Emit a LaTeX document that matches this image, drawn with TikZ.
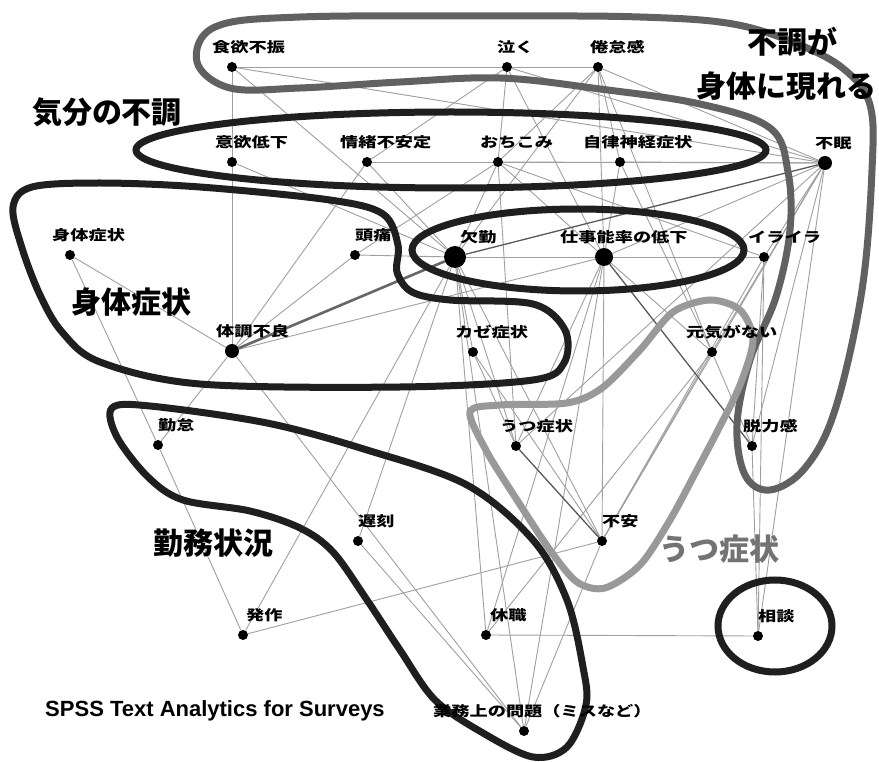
\documentclass[tikz,border=0pt]{standalone}
\usepackage{fontspec}
\setmainfont{Noto Sans CJK JP}
\newfontfamily\latf{Liberation Sans}
\pgfdeclarelayer{bg}
\pgfdeclarelayer{edges}
\pgfdeclarelayer{loops}
\pgfsetlayers{bg,edges,loops,main}
\newcommand\lb[1]{\scalebox{1.3}[1]{#1}}
\newcommand\nd[6][dot]{\node[#1] (#2) at (#3,#4) {};
  \node[lbl,anchor=west] (l#2) at ({#3+(#5)},{#4-20}) {\lb{#6}};}
\tikzset{
  dot/.style={circle,fill=black,inner sep=0pt,minimum size=10pt},
  bigdot/.style={dot,minimum size=22pt},
  middot/.style={dot,minimum size=18pt},
  sdot/.style={dot,minimum size=14pt},
  lbl/.style={font=\bfseries\fontsize{14}{14}\selectfont,inner sep=0pt},
  ed/.style={draw=gray!75,line width=0.9pt},
  eddark/.style={draw=black!65,line width=1.3pt},
  edthick/.style={draw=black!60,line width=2.6pt},
  loopk/.style={draw=black!88,line width=7pt},
  loopg/.style={draw=black!62,line width=7pt},
  loopl/.style={draw=black!40,line width=7pt},
  head/.style={font=\bfseries\fontsize{30}{30}\selectfont,inner sep=0pt},
}
\begin{document}
\begin{tikzpicture}[x=1pt,y=-1pt]
\begin{pgfonlayer}{bg}
\fill[white] (0,0) rectangle (879,762);
\end{pgfonlayer}
\useasboundingbox (0,0) rectangle (879,762);
% nodes
\nd{A}{232}{67}{-20}{食欲不振}
\nd{B}{507}{67}{-10}{泣く}
\nd{C}{598}{67}{-8}{倦怠感}
\nd{D}{232}{162}{-17}{意欲低下}
\nd{E}{367}{162}{-27}{情緒不安定}
\nd{F}{498}{162}{-18}{おちこみ}
\nd{G}{620}{162}{-37}{自律神経症状}
\nd[sdot]{H}{825}{163}{-10}{不眠}
\nd{I}{70}{255}{-18}{身体症状}
\nd{J}{355}{255}{0}{頭痛}
\nd[bigdot]{K}{455}{257}{5}{欠勤}
\nd[middot]{L}{604}{257}{-44}{仕事能率の低下}
\nd{M}{764}{257}{-16}{イライラ}
\nd[sdot]{N}{232}{351}{-16}{体調不良}
\nd{O}{473}{352}{-18}{カゼ症状}
\nd{P}{712}{352}{-26}{元気がない}
\nd{Q}{158}{445}{0}{勤怠}
\nd{R}{516}{446}{-16}{うつ症状}
\nd{S}{752}{446}{-9}{脱力感}
\nd{T}{358}{541}{0}{遅刻}
\nd{U}{602}{541}{0}{不安}
\nd{V}{243}{635}{3}{発作}
\nd{W}{486}{635}{4}{休職}
\nd{X}{758}{636}{0}{相談}
\nd{Y}{524}{731}{-91}{業務上の問題（ミスなど）}
% group headings
\node[head] (h1) at (107,112) {気分の不調};
\node[head] (h2) at (792,42) {不調が};
\node[head] (h3) at (786,86) {身体に現れる};
\node[head] (h4) at (131,302) {身体症状};
\node[head] (h5) at (213,543) {勤務状況};
\node[head,text=black!55] (h6) at (719,549) {うつ症状};
\node[font=\latf\bfseries\fontsize{22}{22}\selectfont,inner sep=0pt] (sp) at (215,711) {SPSS Text Analytics for Surveys};
% edges
\begin{pgfonlayer}{edges}
\foreach \a/\b in {A/B,B/C,A/D,D/N,A/K,A/H,B/F,B/E,B/L,B/H,C/F,C/L,C/H,C/G,C/P,C/K,
  D/K,E/F,E/N,E/K,F/G,F/K,F/L,F/H,F/M,F/J,F/R,G/H,G/L,G/P,H/L,H/M,H/S,H/X,H/P,H/R,H/U,
  I/N,I/Q,J/N,J/K,K/L,K/O,K/R,K/T,K/V,K/W,K/Y,K/U,K/M,L/M,L/P,L/R,L/U,L/Y,L/W,L/N,
  N/Q,N/Y,O/R,O/U,P/S,P/U,P/W,Q/V,S/X,M/X,U/V,U/Y,W/X,T/Y,M/S,M/U}
  \draw[ed] (\a) -- (\b);
\draw[edthick] (K) -- (N);
\draw[eddark] (R) -- (U);
\draw[eddark] (H) -- (K);
\draw[eddark] (L) -- (S);
\end{pgfonlayer}
% group loops
\begin{pgfonlayer}{loops}
\draw[loopg] plot[smooth cycle,tension=0.6] coordinates {
  (230,88) (197,62) (215,27) (300,17) (500,16) (640,17) (733,24) (800,45)
  (845,70) (870,105) (872,170) (862,290) (835,410) (805,468) (770,490)
  (745,475) (737,425) (750,360) (776,297) (790,230) (788,172) (770,128)
  (700,104) (600,89) (500,78) (400,82) (300,88)};
\draw[loopk] (451,150) ellipse[x radius=315,y radius=38];
\draw[loopk] (578,250) ellipse[x radius=166,y radius=41];
\draw[loopk] plot[smooth cycle,tension=0.55] coordinates {
  (13,207) (32,187) (100,183) (200,187) (330,200) (383,214) (398,245)
  (397,272) (412,292) (450,300) (533,304) (565,330) (564,363) (533,380)
  (400,387) (200,384) (100,362) (62,332) (40,295) (22,248)};
\draw[loopk] plot[smooth cycle,tension=0.55] coordinates {
  (112,408) (150,406) (267,423) (367,450) (467,485) (533,540) (567,600)
  (583,667) (586,705) (567,747) (533,757) (483,733) (435,700) (400,650)
  (367,600) (333,552) (300,528) (250,511) (183,500) (148,477) (117,437)};
\draw[loopl] plot[smooth cycle,tension=0.5] coordinates {
  (470,412) (500,405) (567,403) (602,388) (640,350) (673,312) (710,300)
  (740,310) (753,340) (740,385) (718,430) (698,468) (670,520) (640,565)
  (605,588) (577,582) (550,550) (517,500) (487,452)};
\draw[loopk] (775,626) ellipse[x radius=57,y radius=46];
\end{pgfonlayer}
\end{tikzpicture}
\end{document}
